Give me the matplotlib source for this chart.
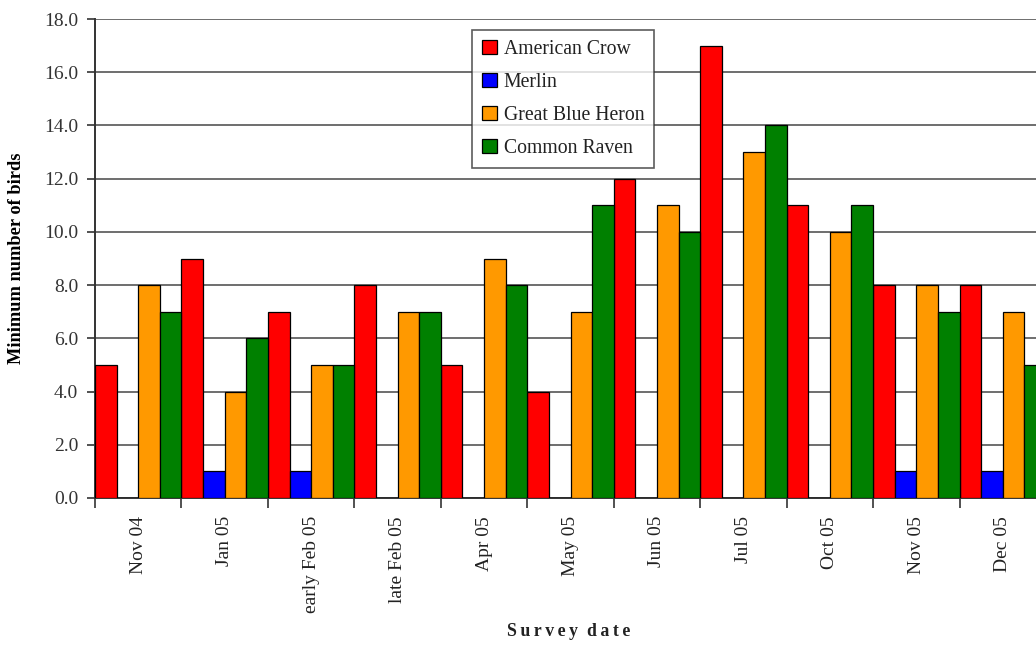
import numpy as np
import matplotlib
matplotlib.use('Agg')
import matplotlib.pyplot as plt
from matplotlib.ticker import FixedLocator, NullFormatter, FixedFormatter

dates = ['Nov 04', 'Jan 05', 'early Feb 05', 'late Feb 05', 'Apr 05', 'May 05',
         'Jun 05', 'Jul 05', 'Oct 05', 'Nov 05', 'Dec 05']
crow = [5, 9, 7, 8, 5, 4, 12, 17, 11, 8, 8]
merlin = [0, 1, 1, 0, 0, 0, 0, 0, 0, 1, 1]
heron = [8, 4, 5, 7, 9, 7, 11, 13, 10, 8, 7]
raven = [7, 6, 5, 7, 8, 11, 10, 14, 11, 7, 5]

series = [('American Crow', crow, '#ff0000'),
          ('Merlin', merlin, '#0000ff'),
          ('Great Blue Heron', heron, '#ff9900'),
          ('Common Raven', raven, '#008000')]

plt.rcParams['font.family'] = ['Liberation Serif', 'DejaVu Serif']

fig = plt.figure(figsize=(10.36, 6.45), dpi=100)
ax = fig.add_axes([95/1036, 1 - 498/645, 951/1036, 479/645])

x = np.arange(len(dates))
w = 0.25
for i, (name, vals, col) in enumerate(series):
    ax.bar(x - 0.375 + i*w, vals, w, color=col, edgecolor='black',
           linewidth=0.9, label=name, zorder=3)

ax.set_xlim(-0.5, len(dates) - 0.5)
ax.set_ylim(0, 18)
ax.set_yticks(np.arange(0, 18.1, 2))
ax.set_yticklabels(['%.1f' % v for v in np.arange(0, 18.1, 2)], fontsize=14, color='#333333')
ax.yaxis.grid(True, color='#555555', linewidth=1.2, zorder=0)
ax.set_axisbelow(True)

# ticks between groups, labels at the centres
ax.xaxis.set_major_locator(FixedLocator(np.arange(-0.5, len(dates), 1)))
ax.xaxis.set_major_formatter(NullFormatter())
ax.xaxis.set_minor_locator(FixedLocator(x))
ax.xaxis.set_minor_formatter(FixedFormatter(dates))
ax.tick_params(axis='x', which='major', length=7, width=1.2, color='#333333')
ax.tick_params(axis='x', which='minor', length=0, pad=13, labelsize=14,
               labelrotation=90, labelcolor='#222222')
for lab in ax.xaxis.get_minorticklabels():
    lab.set_va('top')
ax.tick_params(axis='y', length=6, width=1.2, color='#333333', pad=6)

for s in ['top', 'right']:
    ax.spines[s].set_visible(False)
for s in ['left', 'bottom']:
    ax.spines[s].set_linewidth(1.4)
    ax.spines[s].set_color('#333333')

fig.text(17/1036, 1 - 258/645, 'Minimum number of birds', rotation=90,
         ha='center', va='center', fontsize=13.2, fontweight='bold')
fig.text(569/1036, 1 - 632/645, 'S\u2009u\u2009r\u2009v\u2009e\u2009y  d\u2009a\u2009t\u2009e',
         ha='center', va='center', fontsize=12.8, fontweight='bold', color='#222222')

leg = ax.legend(loc='upper left', bbox_to_anchor=(472/1036, 1 - 30/645),
                bbox_transform=fig.transFigure, fontsize=14.2, frameon=True,
                fancybox=False, edgecolor='#333333', handlelength=0.75,
                handleheight=0.75, handletextpad=0.35, labelspacing=0.7,
                borderpad=0.5, borderaxespad=0)
leg.get_frame().set_linewidth(1.2)
for t in leg.get_texts():
    t.set_color('#222222')

fig.savefig('out.png', dpi=100)
